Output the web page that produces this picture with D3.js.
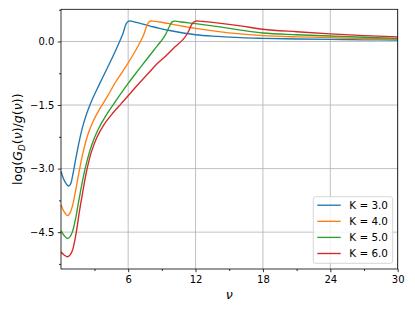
<!DOCTYPE html>
<html>
<head>
<meta charset="utf-8">
<script src="https://cdn.jsdelivr.net/npm/d3@7"></script>
<style>
  body { margin: 0; background: #fff; }
  svg { font-family: "DejaVu Sans", sans-serif; }
</style>
</head>
<body>
<svg width="415" height="311"></svg>
<script>
// values
const kValues = [3.0, 4.0, 5.0, 6.0];
const colors = ["#1f77b4", "#ff7f0e", "#2ca02c", "#d62728"];

const nuK3 = [0.02, 0.35, 0.7, 0.88, 1.05, 1.3, 1.6, 1.95, 2.35, 2.8, 3.4, 4.1, 4.7, 5.24, 5.54, 5.84, 6.07, 6.3, 6.7, 7.9, 8.8, 9.7, 12, 14, 16, 18, 21, 24, 27, 30];
const valK3 = [-3.07, -3.3, -3.41, -3.36, -3.17, -2.82, -2.41, -2.01, -1.67, -1.37, -1.03, -0.65, -0.32, 0.0, 0.19, 0.43, 0.48, 0.48, 0.45, 0.37, 0.31, 0.26, 0.16, 0.12, 0.09, 0.075, 0.06, 0.05, 0.04, 0.035];

const nuK4 = [0.02, 0.3, 0.61, 0.82, 1.05, 1.3, 1.6, 1.95, 2.35, 2.8, 3.4, 4.1, 4.9, 5.7, 6.4, 7.1, 7.4, 7.7, 7.95, 8.25, 8.8, 10.9, 12, 13.9, 16, 18, 21, 24, 27, 30];
const valK4 = [-3.86, -4.02, -4.11, -4.05, -3.87, -3.55, -3.12, -2.66, -2.25, -1.93, -1.62, -1.32, -0.95, -0.63, -0.33, 0.0, 0.17, 0.4, 0.48, 0.48, 0.46, 0.36, 0.31, 0.24, 0.18, 0.14, 0.11, 0.09, 0.07, 0.06];

const nuK5 = [0.02, 0.3, 0.61, 0.85, 1.05, 1.35, 1.65, 1.95, 2.3, 2.75, 3.3, 3.95, 4.65, 5.3, 6.0, 6.8, 7.62, 8.3, 8.9, 9.3, 9.7, 9.95, 10.25, 10.7, 12, 14, 16, 18, 21, 24, 27, 30];
const valK5 = [-4.47, -4.58, -4.65, -4.6, -4.48, -4.14, -3.69, -3.27, -2.86, -2.45, -2.09, -1.78, -1.5, -1.25, -0.99, -0.71, -0.43, -0.2, 0.0, 0.15, 0.37, 0.47, 0.48, 0.46, 0.42, 0.35, 0.27, 0.2, 0.16, 0.13, 0.1, 0.075];

const nuK6 = [0.02, 0.3, 0.61, 0.85, 1.05, 1.35, 1.65, 1.95, 2.3, 2.7, 3.2, 3.85, 4.6, 5.4, 6.2, 7.0, 7.8, 8.6, 9.4, 10.2, 10.9, 11.3, 11.7, 12.0, 12.3, 12.8, 13.9, 16, 18, 21, 24, 27, 30];
const valK6 = [-4.97, -5.04, -5.08, -5.03, -4.92, -4.55, -4.03, -3.56, -3.06, -2.63, -2.27, -1.96, -1.7, -1.46, -1.22, -0.98, -0.75, -0.52, -0.33, -0.12, 0.05, 0.2, 0.42, 0.48, 0.48, 0.47, 0.44, 0.37, 0.29, 0.23, 0.18, 0.14, 0.11];

const nuSeries = [nuK3, nuK4, nuK5, nuK6];
const valSeries = [valK3, valK4, valK5, valK6];

const xTicks = [6, 12, 18, 24, 30];
const xMinor = [3, 9, 15, 21, 27];
const yTicks = [0.0, -1.5, -3.0, -4.5];
const yMinor = [0.75, -0.75, -2.25, -3.75, -5.25];

const margin = { top: 9.3, right: 17.3, bottom: 42, left: 61 };
const width = 415 - margin.left - margin.right;
const height = 311 - margin.top - margin.bottom;

const svg = d3.select("svg");
const g = svg.append("g").attr("transform", `translate(${margin.left},${margin.top})`);

const x = d3.scaleLinear().domain([0.02, 30]).range([0, width]);
const y = d3.scaleLinear().domain([-5.37, 0.76]).range([height, 0]);

// grid
const grid = g.append("g").attr("stroke", "#b0b0b0").attr("stroke-width", 0.8);
grid.selectAll(".gx").data(xTicks).join("line")
  .attr("x1", (d) => x(d)).attr("x2", (d) => x(d))
  .attr("y1", 0).attr("y2", height);
grid.selectAll(".gy").data(yTicks).join("line")
  .attr("x1", 0).attr("x2", width)
  .attr("y1", (d) => y(d)).attr("y2", (d) => y(d));

// curves
const line = d3.line()
  .x((d) => x(d[0]))
  .y((d) => y(d[1]))
  .curve(d3.curveCatmullRom.alpha(0.5));

const lines = g.append("g").attr("fill", "none").attr("stroke-width", 1.35);
kValues.forEach((k, i) => {
  const pts = nuSeries[i].map((n, j) => [n, valSeries[i][j]]);
  lines.append("path")
    .datum(pts)
    .attr("stroke", colors[i])
    .attr("d", line);
});

// axes
const fmt = d3.format(".1f");
g.append("g").attr("transform", `translate(0,${height})`)
  .call(d3.axisBottom(x).tickValues(xTicks).tickSize(3.2).tickPadding(3.5));
g.append("g").attr("transform", `translate(0,${height})`)
  .call(d3.axisBottom(x).tickValues(xMinor).tickSize(2).tickFormat(""));
g.append("g")
  .call(d3.axisLeft(y).tickValues(yTicks).tickFormat(fmt).tickSize(3.2).tickPadding(3.5));
g.append("g")
  .call(d3.axisLeft(y).tickValues(yMinor).tickSize(2).tickFormat(""));

svg.selectAll(".tick text").attr("font-size", 10).attr("fill", "#000")
  .attr("font-family", "DejaVu Sans");
svg.selectAll(".tick line").attr("stroke-width", 0.8);

// frame
g.append("rect")
  .attr("width", width).attr("height", height)
  .attr("fill", "none").attr("stroke", "#000").attr("stroke-width", 0.8);
svg.selectAll(".domain").remove();

// axis labels
svg.append("text")
  .attr("x", margin.left + width / 2).attr("y", 299)
  .attr("text-anchor", "middle").attr("font-size", 12.6)
  .attr("font-style", "italic")
  .text("ν");

const yl = svg.append("text")
  .attr("transform", `translate(22,${margin.top + height / 2}) rotate(-90)`)
  .attr("text-anchor", "middle").attr("font-size", 12.6);
yl.append("tspan").text("log(");
yl.append("tspan").attr("font-style", "italic").text("G");
yl.append("tspan").attr("font-style", "italic").attr("font-size", 8.8).attr("dy", 2.5).text("D");
yl.append("tspan").attr("dy", -2.5).text("(");
yl.append("tspan").attr("font-style", "italic").text("ν");
yl.append("tspan").text(")/");
yl.append("tspan").attr("font-style", "italic").text("g");
yl.append("tspan").text("(");
yl.append("tspan").attr("font-style", "italic").text("ν");
yl.append("tspan").text("))");

// legend
const lg = svg.append("g").attr("transform", "translate(313.3,196.7)");
lg.append("rect")
  .attr("width", 79.4).attr("height", 66.6).attr("rx", 2.5)
  .attr("fill", "#fff").attr("fill-opacity", 0.8)
  .attr("stroke", "#cccccc").attr("stroke-width", 0.8);
kValues.forEach((k, i) => {
  const cy = 8.5 + i * 16.1;
  lg.append("line")
    .attr("x1", 4).attr("x2", 27.4).attr("y1", cy).attr("y2", cy)
    .attr("stroke", colors[i]).attr("stroke-width", 1.35);
  lg.append("text")
    .attr("x", 36).attr("y", cy).attr("dy", "0.36em")
    .attr("font-size", 10.4)
    .text(`K = ${k.toFixed(1)}`);
});
</script>
</body>
</html>
